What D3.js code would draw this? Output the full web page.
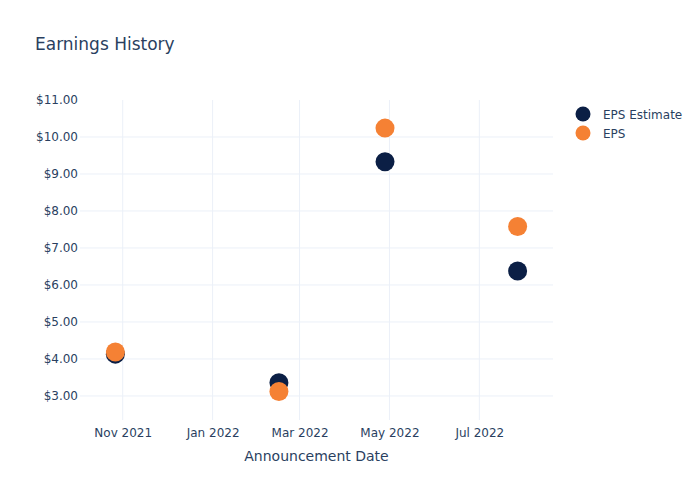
<!DOCTYPE html>
<html>
<head>
<meta charset="utf-8">
<script src="https://cdn.jsdelivr.net/npm/d3@7"></script>
<style>
  body { margin: 0; background: #fff; }
  svg text { font-family: "DejaVu Sans", sans-serif; fill: #2a3f5f; }
</style>
</head>
<body>
<svg id="chart" width="700" height="500"></svg>
<script>
// ---- data ----
const dates = ["2021-10-27", "2022-02-15", "2022-04-28", "2022-07-27"];
const epsEstimate = [4.13, 3.36, 9.33, 6.38];
const eps = [4.19, 3.12, 10.24, 7.58];
const yTicks = [3, 4, 5, 6, 7, 8, 9, 10, 11];
const xTicks = ["2021-11-01", "2022-01-01", "2022-03-01", "2022-05-01", "2022-07-01"];
const seriesNames = ["EPS Estimate", "EPS"];
const seriesColors = ["#0b1f45", "#f58134"];

(function () {
const parse = d3.utcParse("%Y-%m-%d");
const svg = d3.select("#chart");
const pLeft = 80, pRight = 553, pTop = 100, pBottom = 420;
const FONT = "'DejaVu Sans', sans-serif";

const x = d3.scaleUtc()
  .domain([parse("2021-10-03"), parse("2022-08-20")])
  .range([pLeft, pRight]);
const y = d3.scaleLinear()
  .domain([2.35, 11.0])
  .range([pBottom, pTop]);

const grid = "#ebf0f8";
svg.append("g").selectAll("line").data(xTicks).join("line")
  .attr("x1", d => x(parse(d))).attr("x2", d => x(parse(d)))
  .attr("y1", pTop).attr("y2", pBottom)
  .attr("stroke", grid).attr("stroke-width", 1);
svg.append("g").selectAll("line").data(yTicks.filter(v => v < 11)).join("line")
  .attr("x1", pLeft).attr("x2", pRight)
  .attr("y1", d => y(d)).attr("y2", d => y(d))
  .attr("stroke", grid).attr("stroke-width", 1);

const fmtMoney = d3.format("$.2f");
const yAxis = d3.axisLeft(y).tickValues(yTicks).tickFormat(fmtMoney).tickSize(0).tickPadding(2);
const gy = svg.append("g").attr("transform", `translate(${pLeft},0)`).call(yAxis);
gy.select(".domain").remove();
gy.selectAll("text").style("font-size", "12px").attr("fill", "#2a3f5f")
  .style("font-family", FONT);

const fmtDate = d3.utcFormat("%b %Y");
const xAxis = d3.axisBottom(x).tickValues(xTicks.map(parse)).tickFormat(fmtDate).tickSize(0).tickPadding(8);
const gx = svg.append("g").attr("transform", `translate(0,${pBottom})`).call(xAxis);
gx.select(".domain").remove();
gx.selectAll("text").style("font-size", "12px").attr("fill", "#2a3f5f")
  .style("font-family", FONT);

const series = [epsEstimate, eps];
series.forEach((vals, si) => {
  svg.append("g").selectAll("circle").data(vals).join("circle")
    .attr("cx", (d, i) => x(parse(dates[i])))
    .attr("cy", d => y(d))
    .attr("r", 9.5)
    .attr("fill", seriesColors[si]);
});

svg.append("text").attr("x", 35).attr("y", 50)
  .style("font-size", "17px").text("Earnings History");

svg.append("text").attr("x", (pLeft + pRight) / 2).attr("y", 461)
  .attr("text-anchor", "middle").style("font-size", "14px").text("Announcement Date");

seriesNames.forEach((name, i) => {
  const ly = 114 + i * 19;
  svg.append("circle").attr("cx", 583).attr("cy", ly).attr("r", 7.5).attr("fill", seriesColors[i]);
  svg.append("text").attr("x", 603).attr("y", ly + 4.5).style("font-size", "12px").text(name);
});
})();
</script>
</body>
</html>
